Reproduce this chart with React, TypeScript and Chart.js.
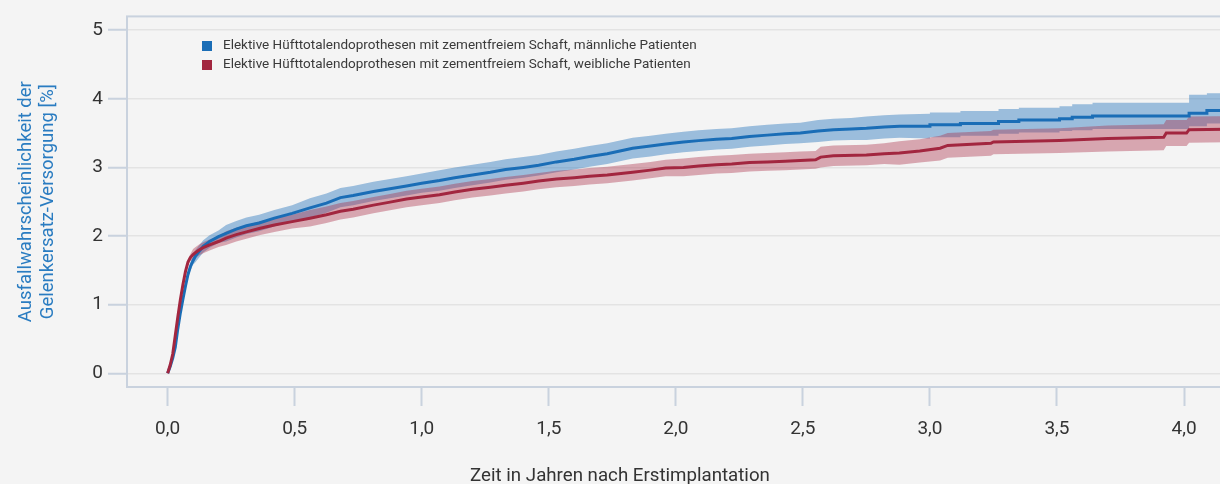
import React, { useEffect, useRef } from 'react';
import { Chart, registerables } from 'chart.js';

Chart.register(...registerables);

// ---- Data ----
// Repeated times mark the visible jumps of the Kaplan-Meier curves.
const maleTimes = [0, 0.01, 0.02, 0.03, 0.04, 0.05, 0.06, 0.07, 0.08, 0.09, 0.1, 0.11, 0.125, 0.14, 0.165, 0.2, 0.23, 0.27, 0.31, 0.36, 0.42, 0.49, 0.56, 0.625, 0.68, 0.73, 0.81, 0.94, 1.0, 1.07, 1.13, 1.2, 1.27, 1.33, 1.4, 1.46, 1.53, 1.6, 1.66, 1.73, 1.78, 1.83, 1.9, 1.96, 2.03, 2.09, 2.16, 2.22, 2.29, 2.36, 2.43, 2.49, 2.56, 2.62, 2.69, 2.75, 2.82, 2.88, 3.0, 3.0, 3.12, 3.12, 3.27, 3.27, 3.35, 3.35, 3.51, 3.51, 3.56, 3.56, 3.64, 3.64, 4.02, 4.02, 4.09, 4.09, 4.25];
const maleValues = [0, 0.1, 0.22, 0.38, 0.65, 0.88, 1.08, 1.27, 1.44, 1.56, 1.64, 1.71, 1.78, 1.85, 1.92, 1.99, 2.04, 2.1, 2.15, 2.19, 2.26, 2.33, 2.41, 2.48, 2.56, 2.59, 2.65, 2.73, 2.77, 2.81, 2.85, 2.89, 2.93, 2.97, 3.0, 3.03, 3.08, 3.12, 3.16, 3.2, 3.24, 3.28, 3.31, 3.34, 3.37, 3.39, 3.41, 3.42, 3.45, 3.47, 3.49, 3.5, 3.53, 3.55, 3.56, 3.57, 3.59, 3.6, 3.6, 3.62, 3.62, 3.64, 3.64, 3.67, 3.67, 3.69, 3.69, 3.71, 3.71, 3.73, 3.73, 3.75, 3.75, 3.79, 3.79, 3.83, 3.83];
const maleUpper = [0, 0.13, 0.25, 0.42, 0.69, 0.92, 1.14, 1.33, 1.5, 1.62, 1.7, 1.8, 1.87, 1.94, 2.01, 2.08, 2.16, 2.22, 2.27, 2.31, 2.38, 2.45, 2.55, 2.62, 2.7, 2.73, 2.79, 2.87, 2.91, 2.96, 3.0, 3.04, 3.08, 3.12, 3.15, 3.18, 3.23, 3.27, 3.31, 3.35, 3.39, 3.43, 3.46, 3.49, 3.52, 3.54, 3.56, 3.57, 3.6, 3.62, 3.64, 3.65, 3.69, 3.71, 3.72, 3.74, 3.76, 3.77, 3.78, 3.8, 3.8, 3.82, 3.82, 3.85, 3.85, 3.87, 3.87, 3.89, 3.89, 3.92, 3.92, 3.94, 3.94, 4.06, 4.06, 4.08, 4.08];
const maleLower = [0, 0.07, 0.19, 0.34, 0.61, 0.84, 1.02, 1.21, 1.38, 1.5, 1.58, 1.62, 1.69, 1.76, 1.83, 1.9, 1.92, 1.98, 2.03, 2.07, 2.14, 2.21, 2.27, 2.34, 2.42, 2.45, 2.51, 2.59, 2.63, 2.66, 2.7, 2.74, 2.78, 2.82, 2.85, 2.88, 2.93, 2.97, 3.01, 3.05, 3.09, 3.13, 3.16, 3.19, 3.22, 3.24, 3.26, 3.27, 3.3, 3.32, 3.34, 3.35, 3.37, 3.39, 3.4, 3.4, 3.42, 3.43, 3.42, 3.44, 3.44, 3.46, 3.46, 3.49, 3.49, 3.51, 3.51, 3.53, 3.53, 3.54, 3.54, 3.56, 3.56, 3.6, 3.6, 3.64, 3.64];

const femaleTimes = [0, 0.01, 0.02, 0.03, 0.04, 0.05, 0.06, 0.07, 0.08, 0.09, 0.1, 0.11, 0.125, 0.14, 0.165, 0.2, 0.23, 0.27, 0.31, 0.36, 0.42, 0.49, 0.56, 0.625, 0.68, 0.73, 0.81, 0.87, 0.94, 1.0, 1.07, 1.13, 1.2, 1.27, 1.33, 1.4, 1.46, 1.53, 1.6, 1.66, 1.73, 1.83, 1.9, 1.96, 2.03, 2.09, 2.16, 2.22, 2.29, 2.36, 2.43, 2.49, 2.55, 2.57, 2.62, 2.75, 2.82, 2.88, 2.96, 3.04, 3.07, 3.24, 3.25, 3.51, 3.7, 3.92, 3.93, 4.01, 4.02, 4.25];
const femaleValues = [0, 0.12, 0.28, 0.55, 0.82, 1.07, 1.29, 1.48, 1.62, 1.69, 1.73, 1.76, 1.8, 1.83, 1.87, 1.92, 1.97, 2.02, 2.06, 2.11, 2.16, 2.21, 2.26, 2.31, 2.36, 2.39, 2.45, 2.49, 2.54, 2.57, 2.6, 2.64, 2.68, 2.71, 2.74, 2.77, 2.8, 2.83, 2.85, 2.87, 2.89, 2.93, 2.96, 2.99, 3.0, 3.02, 3.04, 3.05, 3.07, 3.08, 3.09, 3.1, 3.11, 3.15, 3.17, 3.18, 3.2, 3.21, 3.24, 3.28, 3.32, 3.35, 3.37, 3.39, 3.42, 3.44, 3.5, 3.5, 3.55, 3.56];
const femaleUpper = [0, 0.15, 0.31, 0.59, 0.86, 1.11, 1.34, 1.53, 1.67, 1.74, 1.81, 1.84, 1.88, 1.91, 1.95, 2.0, 2.07, 2.12, 2.16, 2.21, 2.26, 2.31, 2.38, 2.43, 2.48, 2.51, 2.57, 2.61, 2.66, 2.69, 2.72, 2.76, 2.8, 2.83, 2.86, 2.89, 2.92, 2.95, 2.97, 2.99, 3.01, 3.05, 3.08, 3.11, 3.13, 3.15, 3.17, 3.18, 3.2, 3.21, 3.22, 3.23, 3.24, 3.3, 3.32, 3.33, 3.35, 3.38, 3.41, 3.46, 3.5, 3.53, 3.55, 3.57, 3.61, 3.63, 3.69, 3.69, 3.74, 3.75];
const femaleLower = [0, 0.09, 0.25, 0.51, 0.78, 1.03, 1.24, 1.43, 1.57, 1.64, 1.65, 1.68, 1.72, 1.75, 1.79, 1.84, 1.87, 1.92, 1.96, 2.01, 2.06, 2.11, 2.14, 2.19, 2.24, 2.27, 2.33, 2.37, 2.42, 2.45, 2.48, 2.52, 2.56, 2.59, 2.62, 2.65, 2.68, 2.71, 2.73, 2.75, 2.77, 2.81, 2.84, 2.87, 2.87, 2.89, 2.91, 2.92, 2.94, 2.95, 2.96, 2.97, 2.98, 3.0, 3.02, 3.03, 3.05, 3.04, 3.07, 3.1, 3.14, 3.17, 3.19, 3.21, 3.23, 3.25, 3.31, 3.31, 3.36, 3.37];

const xTicks = [0, 0.5, 1, 1.5, 2, 2.5, 3, 3.5, 4];
const yTicks = [0, 1, 2, 3, 4, 5];
const legendLabels = [
  'Elektive Hüfttotalendoprothesen mit zementfreiem Schaft, männliche Patienten',
  'Elektive Hüfttotalendoprothesen mit zementfreiem Schaft, weibliche Patienten',
];
const yTitle = ['Ausfallwahrscheinlichkeit der', 'Gelenkersatz-Versorgung [%]'];
const xTitle = 'Zeit in Jahren nach Erstimplantation';

// ---- Styles ----
const FONT = 'Roboto';
const BLUE = '#1a6db6';
const BLUE_BAND = 'rgba(30, 112, 186, 0.42)';
const RED = '#a2263f';
const RED_BAND = 'rgba(168, 40, 66, 0.38)';
const FRAME = '#c9d2de';
const GRID = '#e3e3e3';
const TEXT = '#333333';
const BG = '#f4f4f4';

const toPoints = (xs: number[], ys: number[]) => xs.map((x, i) => ({ x, y: ys[i] }));

const overlay = {
  id: 'overlay',
  afterDraw(chart: any) {
    const { ctx, chartArea: a } = chart;
    ctx.save();
    ctx.strokeStyle = FRAME;
    ctx.lineWidth = 2;
    ctx.strokeRect(a.left, a.top, a.right - a.left, a.bottom - a.top);

    // legend
    const colors = [BLUE, RED];
    ctx.font = `13.5px ${FONT}`;
    ctx.textBaseline = 'middle';
    ctx.textAlign = 'left';
    legendLabels.forEach((label, i) => {
      const cy = 46 + i * 19;
      ctx.fillStyle = colors[i];
      ctx.fillRect(202, cy - 5, 10, 10);
      ctx.fillStyle = '#3a3a3a';
      ctx.fillText(label, 223, cy);
    });

    // x-axis title
    ctx.font = `18.7px ${FONT}`;
    ctx.fillStyle = TEXT;
    ctx.textAlign = 'center';
    ctx.textBaseline = 'alphabetic';
    ctx.fillText(xTitle, 620, 481);
    ctx.restore();
  },
};

export default function App() {
  const ref = useRef<HTMLCanvasElement | null>(null);

  useEffect(() => {
    const canvas = ref.current;
    if (!canvas) return;
    const lineBase = { pointRadius: 0, pointHoverRadius: 0, tension: 0 };
    const chart = new Chart(canvas, {
      type: 'line',
      data: {
        datasets: [
          { ...lineBase, label: 'female', data: toPoints(femaleTimes, femaleValues), borderColor: RED, borderWidth: 3, fill: false },
          { ...lineBase, label: 'male', data: toPoints(maleTimes, maleValues), borderColor: BLUE, borderWidth: 3, fill: false },
          { ...lineBase, label: 'femaleUpper', data: toPoints(femaleTimes, femaleUpper), borderWidth: 0, borderColor: 'transparent', backgroundColor: RED_BAND, fill: '+1' },
          { ...lineBase, label: 'femaleLower', data: toPoints(femaleTimes, femaleLower), borderWidth: 0, borderColor: 'transparent', fill: false },
          { ...lineBase, label: 'maleUpper', data: toPoints(maleTimes, maleUpper), borderWidth: 0, borderColor: 'transparent', backgroundColor: BLUE_BAND, fill: '+1' },
          { ...lineBase, label: 'maleLower', data: toPoints(maleTimes, maleLower), borderWidth: 0, borderColor: 'transparent', fill: false },
        ],
      },
      options: {
        responsive: false,
        animation: false,
        events: [],
        layout: { padding: { top: 13, right: 5, bottom: 0, left: 0 } },
        plugins: {
          legend: { display: false },
          tooltip: { enabled: false },
        },
        scales: {
          x: {
            type: 'linear',
            min: -0.16,
            max: 4.24,
            afterBuildTicks: (scale: any) => {
              scale.ticks = xTicks.map((v) => ({ value: v }));
            },
            afterFit: (scale: any) => {
              scale.height = 97;
            },
            border: { display: false },
            grid: {
              drawOnChartArea: false,
              drawTicks: true,
              tickLength: 19,
              tickColor: FRAME,
              tickWidth: 2,
            },
            ticks: {
              autoSkip: false,
              maxRotation: 0,
              padding: 12,
              color: TEXT,
              font: { family: FONT, size: 19 },
              callback: (v: any) => Number(v).toFixed(1).replace('.', ','),
            },
            title: { display: false },
          },
          y: {
            type: 'linear',
            min: -0.2,
            max: 5.2,
            afterBuildTicks: (scale: any) => {
              scale.ticks = yTicks.map((v) => ({ value: v }));
            },
            afterFit: (scale: any) => {
              scale.width = 127;
            },
            border: { display: false },
            grid: {
              drawOnChartArea: true,
              color: GRID,
              lineWidth: 1.5,
              drawTicks: true,
              tickLength: 19,
              tickColor: FRAME,
              tickWidth: 2,
            },
            ticks: {
              padding: 5,
              color: TEXT,
              font: { family: FONT, size: 19 },
              callback: (v: any) => String(v),
            },
            title: {
              display: true,
              text: yTitle,
              color: '#2a7cc1',
              font: { family: FONT, size: 18.5, lineHeight: 1.2 },
              padding: { top: 15, bottom: 0 },
            },
          },
        },
      },
      plugins: [overlay],
    });
    return () => chart.destroy();
  }, []);

  return (
    <div
      style={{
        position: 'fixed',
        left: 0,
        top: 0,
        width: 1220,
        height: 484,
        overflow: 'hidden',
        background: BG,
      }}
    >
      <canvas ref={ref} width={1250} height={484} style={{ display: 'block', width: 1250, height: 484 }} />
    </div>
  );
}
